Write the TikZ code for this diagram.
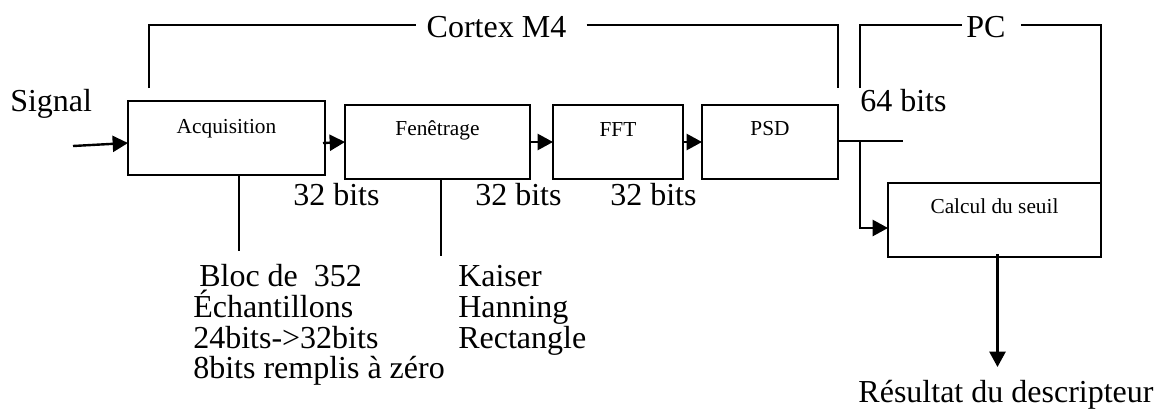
\documentclass[tikz,border=0pt]{standalone}
\usepackage{fontspec}
\setmainfont{Liberation Serif}
\usetikzlibrary{arrows.meta,calc}
\begin{document}
\begin{tikzpicture}[x=0.75pt,y=-0.75pt,
  box/.style={draw, line width=0.9pt, inner sep=0pt, outer sep=0pt, minimum height=55.5pt},
  boxtext/.style={inner sep=0pt, anchor=base, font=\fontsize{16}{19}\selectfont},
  big/.style={inner sep=0pt, anchor=base west, font=\fontsize{24}{28}\selectfont},
  bracket/.style={line width=1.5pt},
  thinline/.style={line width=1.2pt},
  arr/.style={line width=1.8pt, -{Triangle[length=11.5pt,width=12pt]}},
]
\useasboundingbox (0,0) rectangle (1160,415);

% boxes
\node[box, minimum width=147.75pt] (acq) at (226.5,138) {};
\node[box, minimum width=138.75pt] (fen) at (437.5,142) {};
\node[box, minimum width=97.5pt] (fft) at (618,142) {};
\node[box, minimum width=102pt] (psd) at (770,142) {};
\node[box, minimum width=159.75pt] (calc) at (994.5,220) {};

\node[boxtext] (tacq) at ($(acq.north)+(0,32)$) {Acquisition};
\node[boxtext] (tfen) at ($(fen.north)+(0,30)$) {Fenêtrage};
\node[boxtext] (tfft) at ($(fft.north)+(0,31)$) {FFT};
\node[boxtext] (tpsd) at ($(psd.north)+(0,30)$) {PSD};
\node[boxtext] (tcalc) at ($(calc.north)+(0,30)$) {Calcul du seuil};

% arrows
\coordinate (sigin) at (73,146);
\draw[arr] (sigin) -- ($(acq.west)+(0,5)$);
\draw[arr] ($(acq.east)+(-2,5)$) -- (fen.west);
\draw[arr] (fen.east) -- (fft.west);
\draw[arr] (fft.east) -- (psd.west);
\coordinate (psdend) at (903,141);
\draw[line width=1.5pt] ($(psd.east)+(0,-1)$) -- (psdend);
\coordinate (br) at (860,141);
\draw[arr] (br) |- ($(calc.west)+(0,8)$);
\coordinate (res) at (997.5,367);
\draw[arr] ($(calc.south)+(3,-3)$) -- (res);

% brackets
\node[big, anchor=base] (cortex) at (496.5,37) {Cortex M4};
\coordinate (cl) at (149,88);
\coordinate (cr) at (838,88);
\draw[bracket] (cl) |- ($(cortex.base west)+(-10,-12)$);
\draw[bracket] ($(cortex.base east)+(20,-12)$) -| (cr);

\node[big, anchor=base] (pc) at (986,37) {PC};
\coordinate (pl) at (860,88);
\draw[bracket] (pl) |- ($(pc.base west)+(-4,-12)$);
\draw[bracket] ($(pc.base east)+(15,-12)$) -| (calc.south east);

% vertical lines below boxes
\coordinate (acqd) at (239,251);
\draw[thinline] (acq.south -| acqd) -- (acqd);
\coordinate (fend) at (441,256);
\draw[thinline] (fen.south -| fend) -- (fend);

% labels
\node[big] (signal) at (10,111) {Signal};
\node[big] (b64) at (860,111) {64 bits};
\node[big] (b32a) at (293,205) {32 bits};
\node[big] (b32b) at (475,205) {32 bits};
\node[big] (b32c) at (610,205) {32 bits};

\node[big] (l1) at (199,286) {Bloc de\ \ 352};
\node[big] (l2) at (193,317) {Échantillons};
\node[big] (l3) at (193,348) {24bits->32bits};
\node[big] (l4) at (193,378) {8bits remplis à zéro};

\node[big] (r1) at (458,286) {Kaiser};
\node[big] (r2) at (458,317) {Hanning};
\node[big] (r3) at (458,348) {Rectangle};

\node[big, anchor=base] (tres) at (1006,402) {Résultat du descripteur};
\end{tikzpicture}
\end{document}
